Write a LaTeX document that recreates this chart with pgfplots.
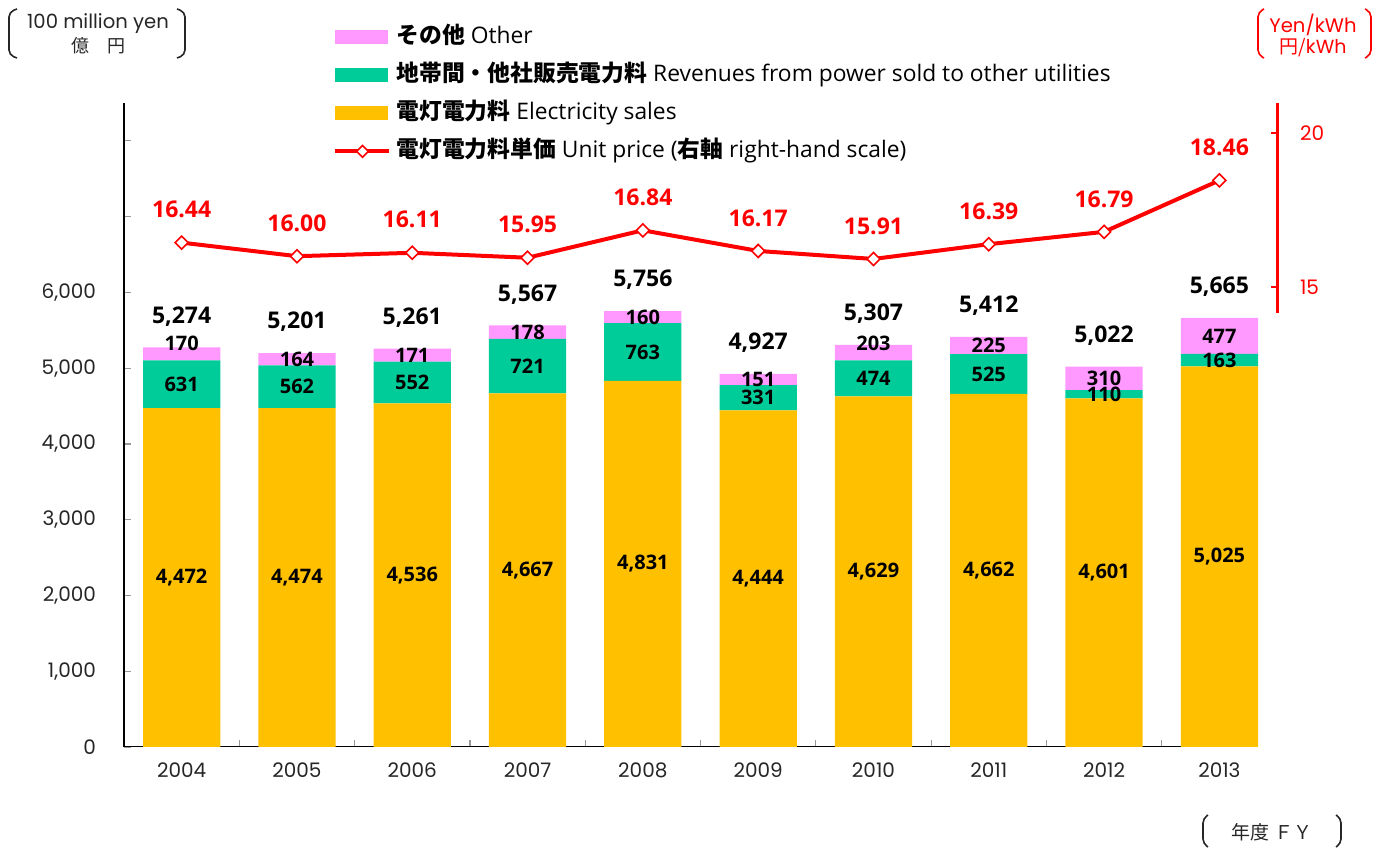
\documentclass[border=0pt]{standalone}
\usepackage{pgfplots}
\usepackage{pgfplotstable}
\pgfplotsset{compat=1.18}
\usepackage{fontspec}
\setmainfont{Open Sans}
\newfontfamily\jp{Noto Sans CJK JP}
\newfontfamily\geo{Poppins}
\definecolor{cOrange}{HTML}{FFC000}
\definecolor{cGreen}{HTML}{00CC99}
\definecolor{cPink}{HTML}{FF99FF}
\definecolor{cRed}{HTML}{FF0000}
\definecolor{cText}{HTML}{262626}

\pgfplotstableread{
x year sales sold other total price olab
0 2004 4472 631 170 5274 16.44 5333
1 2005 4474 562 164 5201 16.00 5118
2 2006 4536 552 171 5261 16.11 5173
3 2007 4667 721 178 5567 15.95 5477
4 2008 4831 763 160 5756 16.84 5674
5 2009 4444 331 151 4927 16.17 4850
6 2010 4629 474 203 5307 15.91 5333
7 2011 4662 525 225 5412 16.39 5300
8 2012 4601 110 310 5022 16.79 4866
9 2013 5025 163 477 5665 18.46 5426
}\data

\pgfplotsset{
  base/.style={
    scale only axis, width=576.5pt, height=322pt,
    at={(62pt,51.5pt)}, anchor=south west,
    xmin=-0.5, xmax=9.5,
    /pgf/number format/assume math mode=true,
  },
  dlegend/.style={legend image code/.code={%
    \draw[mark repeat=2,mark phase=2,##1] plot coordinates {(0pt,0pt) (13.5pt,0pt) (27pt,0pt)};}},
  rlegend/.style={legend image code/.code={%
    \fill[##1] (0pt,-3.25pt) rectangle (26pt,3.25pt);}},
}

\begin{document}
\begin{tikzpicture}
\path[use as bounding box] (0,0) rectangle (693.5pt,425pt);

% ---------- bars ----------
\begin{axis}[base,
  ybar stacked, bar width=0.67,
  ymin=0, ymax=8500,
  axis lines=left, axis line style={-},
  x axis line style={draw=none},
  y axis line style={black, line width=0.75pt},
  tick align=inside,
  ytick={0,1000,2000,3000,4000,5000,6000,7000,8000},
  yticklabels={0,{1,000},{2,000},{3,000},{4,000},{5,000},{6,000},{},{}},
  major tick length=3.5pt, minor tick length=3.5pt,
  ytick style={draw=gray!80, line width=0.6pt},
  xtick={0,...,9},
  xticklabels={2004,2005,2006,2007,2008,2009,2010,2011,2012,2013},
  major x tick style={draw=none},
  minor xtick={0.5,1.5,...,8.5},
  minor x tick style={draw=gray!80, line width=0.6pt},
  ticklabel style={font=\geo\fontsize{10}{12}\selectfont, text=cText},
  yticklabel style={xshift=-10.5pt},
  xticklabel style={yshift=-4.5pt},
]
\addplot[fill=cOrange, draw=none] table[x=x,y=sales]{\data};
\addplot[fill=cGreen, draw=none] table[x=x,y=sold]{\data};
\addplot[fill=cPink, draw=none] table[x=x,y=other]{\data};
\draw[black, line width=0.75pt] (axis cs:-0.5,0) -- (axis cs:9.335,0);
\end{axis}

% ---------- bar labels + legend ----------
\begin{axis}[base,
  ymin=0, ymax=8500, hide axis, clip=false,
  point meta=explicit,
  every node near coord/.style={anchor=center, text=black,
     font=\fontsize{10}{12}\selectfont\bfseries},
  legend cell align=left,
  legend style={at={(0.1813,1.1196)}, anchor=north west, draw=none, fill=none,
    inner sep=0pt, row sep=8pt,
    font=\fontsize{11.4}{13}\selectfont,
    nodes={inner xsep=2.5pt, inner ysep=0pt, text height=8.5pt, text depth=2.5pt}},
]
\addplot[draw=none, mark=none, forget plot, nodes near coords]
  table[x=x, y expr=\thisrow{sales}/2, meta=sales]{\data};
\addplot[draw=none, mark=none, forget plot, nodes near coords]
  table[x=x, y expr=\thisrow{sales}+\thisrow{sold}/2, meta=sold]{\data};
\addplot[draw=none, mark=none, forget plot, nodes near coords]
  table[x=x, y=olab, meta=other]{\data};
\addplot[draw=none, mark=none, forget plot, nodes near coords,
  nodes near coords style={yshift=15.5pt, font=\fontsize{11.5}{14}\selectfont\bfseries}]
  table[x=x, y=total, meta=total]{\data};

\addlegendimage{rlegend, cPink}
\addlegendentry{{\jp\bfseries その他} Other}
\addlegendimage{rlegend, cGreen}
\addlegendentry{{\jp\bfseries 地帯間・他社販売電力料} Revenues from power sold to other utilities}
\addlegendimage{rlegend, cOrange}
\addlegendentry{{\jp\bfseries 電灯電力料} Electricity sales}
\addlegendimage{dlegend, cRed, line width=2pt, mark=square*, mark size=2.1pt,
  mark options={rotate=45, fill=white, draw=cRed, line width=0.8pt}}
\addlegendentry{{\jp\bfseries 電灯電力料単価} Unit price ({\jp\bfseries 右軸} right-hand scale)}
\end{axis}

% ---------- unit price (right axis) ----------
\begin{axis}[base,
  ymin=0.065, ymax=20.974, clip=false,
  axis x line=none, axis y line*=right,
  y axis line style={draw=none},
  ytick={15,20}, tick align=inside, major tick length=3pt,
  ytick style={draw=cRed, line width=0.8pt},
  yticklabel style={text=cRed, font=\geo\fontsize{10}{12}\selectfont, xshift=8pt},
]
\addplot[cRed, line width=2pt, mark=square*, mark size=2.3pt,
  mark options={rotate=45, fill=white, draw=cRed, line width=0.8pt},
  point meta=explicit,
  nodes near coords={\pgfmathprintnumber[fixed,fixed zerofill,precision=2]{\pgfplotspointmeta}},
  nodes near coords style={anchor=center, yshift=16.5pt, text=cRed,
     font=\fontsize{11.5}{14}\selectfont\bfseries}]
  table[x=x, y=price, meta=price]{\data};
\draw[cRed, line width=1.5pt] (axis cs:9.5,14.16) -- (axis cs:9.5,20.974);
\end{axis}

% ---------- unit labels ----------
\draw[cText, line width=0.8pt, rounded corners=2.5pt]
  (8.5pt,420.5pt) -- (4.5pt,419pt) -- (4.5pt,397.5pt) -- (8.5pt,396pt);
\draw[cText, line width=0.8pt, rounded corners=2.5pt]
  (88.5pt,420.5pt) -- (92.5pt,419pt) -- (92.5pt,397.5pt) -- (88.5pt,396pt);
\node[font=\geo\fontsize{9.8}{11}\selectfont, text=cText] at (49pt,413pt) {100 million yen};
\node[font=\jp\fontsize{9}{10}\selectfont, text=cText] at (49pt,402pt) {億　円};

\draw[cRed, line width=0.8pt, rounded corners=2.5pt]
  (632pt,420.5pt) -- (629pt,419pt) -- (629pt,397.5pt) -- (632pt,396pt);
\draw[cRed, line width=0.8pt, rounded corners=2.5pt]
  (682.5pt,420.5pt) -- (685.5pt,419pt) -- (685.5pt,397.5pt) -- (682.5pt,396pt);
\node[font=\geo\fontsize{9.8}{11}\selectfont, text=cRed] at (656.5pt,412.5pt) {Yen/kWh};
\node[font=\jp\fontsize{9.5}{11}\selectfont, text=cRed] at (656.5pt,401pt) {円/\geo kWh};

\draw[cText, line width=0.8pt, rounded corners=2.5pt]
  (604pt,17.5pt) -- (601.5pt,16pt) -- (601.5pt,3pt) -- (604pt,1.5pt);
\draw[cText, line width=0.8pt, rounded corners=2.5pt]
  (668pt,17.5pt) -- (670.5pt,16pt) -- (670.5pt,3pt) -- (668pt,1.5pt);
\node[font=\jp\fontsize{9.5}{11}\selectfont, text=cText] at (636pt,9pt) {年度 ＦＹ};
\end{tikzpicture}
\end{document}
